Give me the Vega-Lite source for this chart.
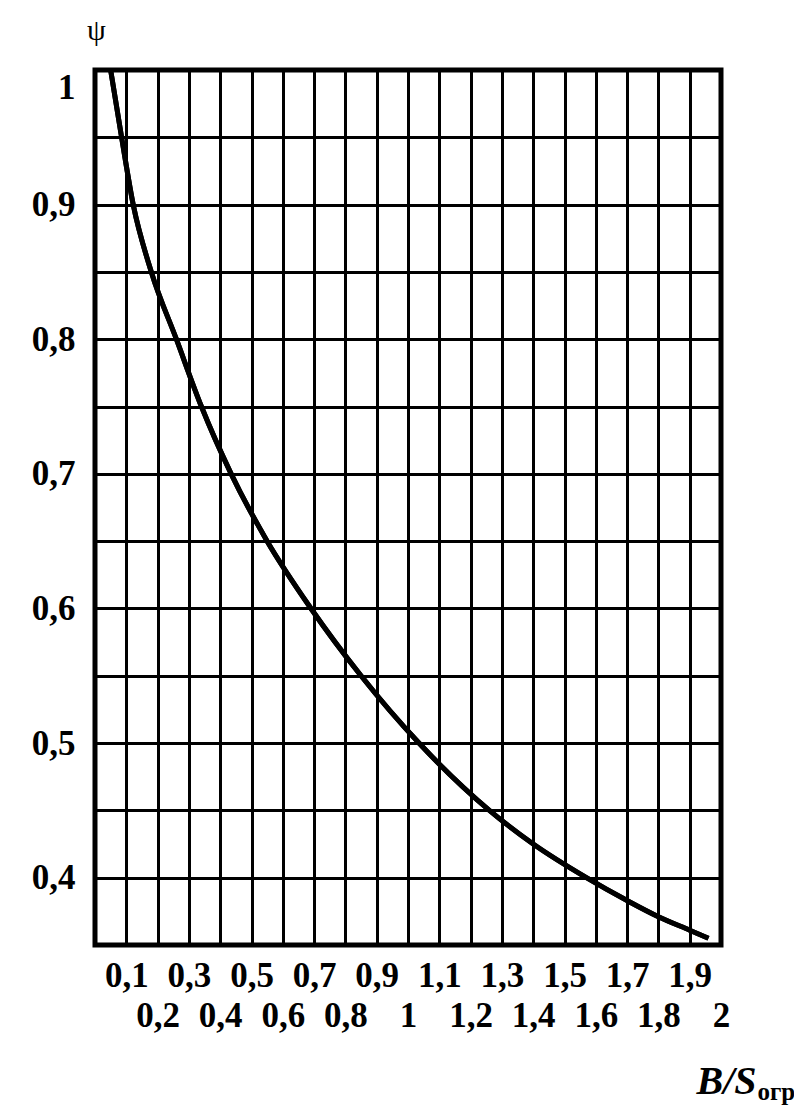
{
  "$schema": "https://vega.github.io/schema/vega-lite/v6.json",
  "width": 626,
  "height": 875,
  "autosize": {"type": "none"},
  "padding": {"left": 95, "top": 70, "right": 73, "bottom": 163},
  "background": "white",
  "view": {"stroke": "black", "strokeWidth": 5},
  "data": {
    "values": [
      {"b": 0.05, "psi": 1.0},
      {"b": 0.085, "psi": 0.95},
      {"b": 0.122, "psi": 0.9},
      {"b": 0.18, "psi": 0.85},
      {"b": 0.26, "psi": 0.8},
      {"b": 0.34, "psi": 0.75},
      {"b": 0.435, "psi": 0.7},
      {"b": 0.55, "psi": 0.65},
      {"b": 0.69, "psi": 0.6},
      {"b": 0.85, "psi": 0.55},
      {"b": 1.035, "psi": 0.5},
      {"b": 1.26, "psi": 0.45},
      {"b": 1.4, "psi": 0.425},
      {"b": 1.57, "psi": 0.4},
      {"b": 1.7, "psi": 0.383},
      {"b": 1.8, "psi": 0.371},
      {"b": 1.9, "psi": 0.361},
      {"b": 1.96, "psi": 0.355}
    ]
  },
  "layer": [
    {
      "mark": {"type": "line", "color": "black", "strokeWidth": 5, "interpolate": "monotone", "clip": true},
      "encoding": {
        "x": {
          "field": "b", "type": "quantitative",
          "scale": {"domain": [0, 2], "nice": false, "zero": false},
          "axis": {
            "values": [0, 0.1, 0.2, 0.3, 0.4, 0.5, 0.6, 0.7, 0.8, 0.9, 1, 1.1, 1.2, 1.3, 1.4, 1.5, 1.6, 1.7, 1.8, 1.9, 2],
            "labelExpr": "datum.value == 0 ? '' : replace(format(datum.value, '.1~f'), '.', ',')",
            "labelPadding": {"condition": {"test": "round(datum.value*10) % 2 == 1", "value": 13}, "value": 53},
            "labelFont": "Liberation Serif", "labelFontWeight": "bold", "labelFontSize": 35, "labelColor": "black",
            "labelOverlap": false, "labelFlush": false, "labelBaseline": "top",
            "ticks": false, "tickSize": 0, "domain": false,
            "grid": true, "gridColor": "black", "gridWidth": 3, "gridOpacity": 1,
            "title": "B/S",
            "titleFont": "Liberation Serif", "titleFontWeight": "bold", "titleFontStyle": "italic", "titleFontSize": 40, "titleColor": "black",
            "titleAlign": "right", "titleBaseline": "alphabetic", "titleAngle": 0,
            "titleX": 661, "titleY": 148
          }
        },
        "y": {
          "field": "psi", "type": "quantitative",
          "scale": {"domain": [0.35, 1.0], "nice": false, "zero": false},
          "axis": {
            "values": [0.35, 0.4, 0.45, 0.5, 0.55, 0.6, 0.65, 0.7, 0.75, 0.8, 0.85, 0.9, 0.95, 1.0],
            "labelExpr": "round(datum.value*100) % 10 == 0 ? replace(format(datum.value, '.1~f'), '.', ',') : ''",
            "labelPadding": 20,
            "labelBaseline": {"condition": {"test": "datum.value == 1", "value": "top"}, "value": "middle"},
            "labelFont": "Liberation Serif", "labelFontWeight": "bold", "labelFontSize": 35, "labelColor": "black",
            "labelOverlap": false, "labelFlush": false,
            "ticks": false, "tickSize": 0, "domain": false,
            "grid": true, "gridColor": "black", "gridWidth": 3, "gridOpacity": 1,
            "title": "ψ",
            "titleFont": "Liberation Serif", "titleFontWeight": "normal", "titleFontSize": 30, "titleColor": "black",
            "titleAngle": 0, "titleAlign": "center", "titleBaseline": "middle",
            "titleX": 1, "titleY": -40
          }
        }
      }
    },
    {
      "mark": {"type": "line", "color": "black", "strokeWidth": 5, "interpolate": "monotone", "clip": true},
      "encoding": {
        "x": {
          "field": "b", "type": "quantitative",
          "axis": {
            "orient": "top",
            "labels": false, "ticks": false, "domain": false, "grid": false,
            "title": "огр",
            "titleFont": "Liberation Serif", "titleFontWeight": "bold", "titleFontSize": 25, "titleColor": "black",
            "titleAlign": "left", "titleBaseline": "alphabetic", "titleAngle": 0,
            "titleX": 662, "titleY": 1029
          }
        },
        "y": {"field": "psi", "type": "quantitative"}
      }
    }
  ],
  "resolve": {"axis": {"x": "independent"}}
}
